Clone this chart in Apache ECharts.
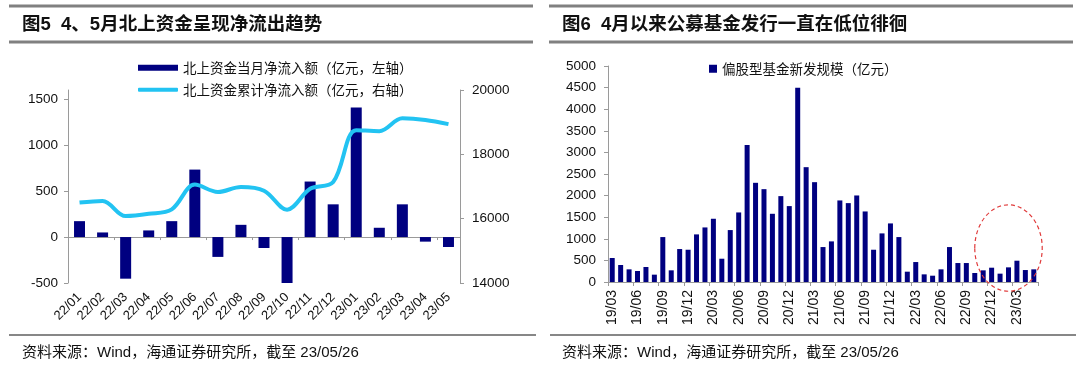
<!DOCTYPE html>
<html>
<head>
<meta charset="utf-8">
<script src="https://cdn.jsdelivr.net/npm/echarts@6/dist/echarts.min.js"></script>
<style>
html,body{margin:0;padding:0;background:#fff;}
#c{width:1080px;height:366px;}
</style>
</head>
<body>
<div id="c"></div>
<script>
// ---- Left chart data (图5) ----
const monthsL = ['22/01','22/02','22/03','22/04','22/05','22/06','22/07','22/08','22/09','22/10','22/11','22/12','23/01','23/02','23/03','23/04','23/05'];
const northMonthly = [173, 50, -453, 72, 173, 734, -216, 133, -119, -511, 604, 356, 1410, 101, 356, -50, -108];
const northCumulative = [16500, 16550, 16080, 16150, 16290, 17060, 16830, 16985, 16870, 16280, 16930, 17140, 18750, 18720, 19120, 19070, 18940];
const leftTicks = [-500, 0, 500, 1000, 1500];
const rightTicks = [14000, 16000, 18000, 20000];

// ---- Right chart data (图6) ----
const monthsR = ['19/03','19/04','19/05','19/06','19/07','19/08','19/09','19/10','19/11','19/12',
  '20/01','20/02','20/03','20/04','20/05','20/06','20/07','20/08','20/09','20/10','20/11','20/12',
  '21/01','21/02','21/03','21/04','21/05','21/06','21/07','21/08','21/09','21/10','21/11','21/12',
  '22/01','22/02','22/03','22/04','22/05','22/06','22/07','22/08','22/09','22/10','22/11','22/12',
  '23/01','23/02','23/03','23/04','23/05'];
const fundIssue = [555,393,293,254,347,170,1040,270,763,747,
  1102,1263,1464,539,1202,1610,3174,2296,2149,1579,1988,1757,
  4499,2658,2311,809,940,1888,1826,2003,1633,747,1125,1356,
  1040,239,462,177,146,293,809,439,439,208,270,331,
  193,339,493,277,293];

const nameBar = '北上资金当月净流入额（亿元，左轴）';
const nameLine = '北上资金累计净流入额（亿元，右轴）';
const nameFund = '偏股型基金新发规模（亿元）';

const NAVY = '#000080';
const CYAN = '#22C3F2';
const AX = '#9a9a9a';
const NUM_FONT = '"Liberation Sans", Arial, sans-serif';
const CJK_FONT = '"Noto Sans CJK SC", sans-serif';
const MIX_FONT = '"Liberation Sans", "Noto Sans CJK SC", sans-serif';
const plain = v => String(v);

const chart = echarts.init(document.getElementById('c'), null, {renderer: 'canvas'});

const option = {
  animation: false,
  backgroundColor: '#fff',
  grid: [
    {left: 68, top: 90, width: 392, height: 193},
    {left: 608, top: 66, width: 430, height: 216}
  ],
  legend: [
    {data: [nameBar], left: 138, top: 61, padding: 0, icon: 'rect', itemWidth: 40, itemHeight: 6,
     textStyle: {fontSize: 13.5, fontFamily: CJK_FONT, color: '#111'}},
    {data: [nameLine], left: 138, top: 83, padding: 0, icon: 'roundRect', itemWidth: 40, itemHeight: 4,
     textStyle: {fontSize: 13.5, fontFamily: CJK_FONT, color: '#111'}},
    {data: [nameFund], left: 709, top: 62, padding: 0, icon: 'rect', itemWidth: 8, itemHeight: 8,
     textStyle: {fontSize: 13.5, fontFamily: CJK_FONT, color: '#111'}}
  ],
  xAxis: [
    { // left chart: zero line with ticks
      type: 'category', gridIndex: 0, data: monthsL, position: 'bottom',
      axisLine: {onZero: true, lineStyle: {color: AX, width: 1}},
      axisTick: {show: true, length: 3, lineStyle: {color: AX}},
      axisLabel: {show: false}, splitLine: {show: false}
    },
    { // left chart: labels at bottom
      type: 'category', gridIndex: 0, data: monthsL, position: 'bottom',
      axisLine: {show: false, onZero: false}, axisTick: {show: false},
      axisLabel: {rotate: 45, margin: 12, fontSize: 13, fontFamily: NUM_FONT, color: '#111', interval: 0}
    },
    { // right chart
      type: 'category', gridIndex: 1, data: monthsR,
      axisLine: {lineStyle: {color: AX, width: 1}},
      axisTick: {show: true, interval: 2, length: 4, lineStyle: {color: AX}},
      axisLabel: {rotate: 90, interval: 2, margin: 8, fontSize: 14, fontFamily: NUM_FONT, color: '#111'}
    }
  ],
  yAxis: [
    {
      type: 'value', gridIndex: 0, min: -500, max: 1600, interval: 500,
      axisLine: {show: true, lineStyle: {color: AX}},
      axisTick: {show: true, length: 4, lineStyle: {color: AX}, customValues: leftTicks},
      axisLabel: {margin: 10, fontSize: 13.5, fontFamily: NUM_FONT, color: '#111', customValues: leftTicks, formatter: plain},
      splitLine: {show: false}
    },
    {
      type: 'value', gridIndex: 0, position: 'right', min: 14000, max: 20000, interval: 2000,
      axisLine: {show: true, lineStyle: {color: AX}},
      axisTick: {show: true, length: 4, lineStyle: {color: AX}, customValues: rightTicks},
      axisLabel: {margin: 12, fontSize: 13.5, fontFamily: NUM_FONT, color: '#111', customValues: rightTicks, formatter: plain},
      splitLine: {show: false}
    },
    {
      type: 'value', gridIndex: 1, min: 0, max: 5000, interval: 500,
      axisLine: {show: true, lineStyle: {color: AX}},
      axisTick: {show: true, length: 4, lineStyle: {color: AX}},
      axisLabel: {margin: 12, fontSize: 13.5, fontFamily: NUM_FONT, color: '#111', formatter: plain},
      splitLine: {show: false}
    }
  ],
  series: [
    {name: nameBar, type: 'bar', xAxisIndex: 0, yAxisIndex: 0, data: northMonthly, barWidth: 11,
     itemStyle: {color: NAVY}},
    {name: nameLine, type: 'line', xAxisIndex: 0, yAxisIndex: 1, data: northCumulative, smooth: 0.35,
     symbol: 'none', lineStyle: {color: CYAN, width: 4}, itemStyle: {color: CYAN}, z: 5},
    {name: nameFund, type: 'bar', xAxisIndex: 2, yAxisIndex: 2, data: fundIssue, barWidth: 5,
     itemStyle: {color: NAVY}}
  ],
  graphic: [
    {id: 'tl1', type: 'line', shape: {x1: 9, y1: 6, x2: 533, y2: 6}, style: {stroke: '#808080', lineWidth: 3}},
    {id: 'tl2', type: 'line', shape: {x1: 9, y1: 42, x2: 533, y2: 42}, style: {stroke: '#808080', lineWidth: 3}},
    {id: 'tr1', type: 'line', shape: {x1: 549, y1: 6, x2: 1073, y2: 6}, style: {stroke: '#808080', lineWidth: 3}},
    {id: 'tr2', type: 'line', shape: {x1: 549, y1: 42, x2: 1073, y2: 42}, style: {stroke: '#808080', lineWidth: 3}},
    {id: 'ttl', type: 'text', x: 22, y: 25, style: {text: '图5  4、5月北上资金呈现净流出趋势', fontSize: 18.5, fontWeight: 'bold',
      fontFamily: MIX_FONT, fill: '#111', verticalAlign: 'middle'}},
    {id: 'ttr', type: 'text', x: 562, y: 25, style: {text: '图6  4月以来公募基金发行一直在低位徘徊', fontSize: 18.5, fontWeight: 'bold',
      fontFamily: MIX_FONT, fill: '#111', verticalAlign: 'middle'}},
    {id: 'bl', type: 'line', shape: {x1: 9, y1: 335, x2: 536, y2: 335}, style: {stroke: '#111', lineWidth: 1.2}},
    {id: 'br', type: 'line', shape: {x1: 550, y1: 335, x2: 1076, y2: 335}, style: {stroke: '#111', lineWidth: 1.2}},
    {id: 'sl', type: 'text', x: 22, y: 353, style: {text: '资料来源：Wind，海通证券研究所，截至 23/05/26', fontSize: 15,
      fontFamily: MIX_FONT, fill: '#111', verticalAlign: 'middle'}},
    {id: 'sr', type: 'text', x: 562, y: 353, style: {text: '资料来源：Wind，海通证券研究所，截至 23/05/26', fontSize: 15,
      fontFamily: MIX_FONT, fill: '#111', verticalAlign: 'middle'}}
  ]
};
chart.setOption(option);

// dashed ellipse highlighting recent months, anchored to the data scale
const c = chart.convertToPixel({xAxisIndex: 2, yAxisIndex: 2}, ['23/02', 786]);
const l = chart.convertToPixel({xAxisIndex: 2, yAxisIndex: 2}, ['22/10', 0]);
const t = chart.convertToPixel({xAxisIndex: 2, yAxisIndex: 2}, ['23/02', 1786]);
chart.setOption({graphic: [{id: 'ell', type: 'ellipse', z: 10,
  shape: {cx: c[0], cy: c[1], rx: c[0] - l[0], ry: c[1] - t[1]},
  style: {fill: 'none', stroke: '#E03A3A', lineWidth: 1.2, lineDash: [4, 3]}}]});
</script>
</body>
</html>
